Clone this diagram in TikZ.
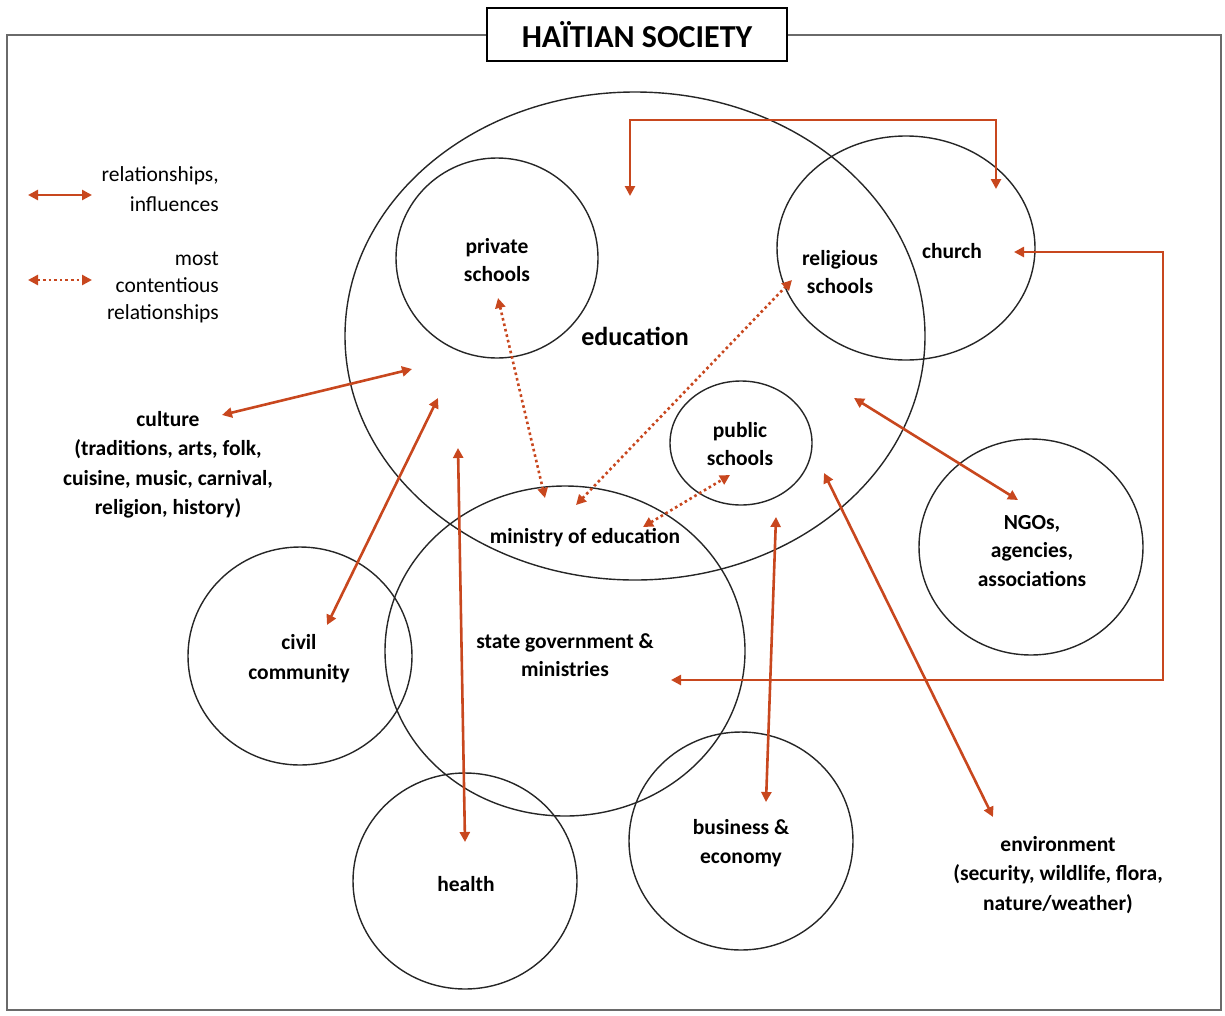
\documentclass[tikz,border=0pt]{standalone}
\usepackage{fontspec}
\setmainfont{Carlito}
\usetikzlibrary{arrows.meta}
\definecolor{rel}{HTML}{C8471E}
\definecolor{frame}{HTML}{6A6A6A}
\begin{document}
\begin{tikzpicture}[x=1pt,y=-1pt,
  area/.style={draw=black!85,line width=1.4pt},
  lbl/.style={font=\fontsize{21.5}{28}\selectfont\bfseries,align=center,inner sep=0pt},
  legtxt/.style={font=\fontsize{21.5}{29}\selectfont,align=right,inner sep=0pt,anchor=east},
  link/.style={draw=rel,line width=2.6pt,{Triangle[length=10pt,width=10pt]}-{Triangle[length=10pt,width=10pt]}},
  tense/.style={draw=rel,line width=2.6pt,dash pattern=on 2.6pt off 3pt,{Triangle[length=10pt,width=10pt]}-{Triangle[length=10pt,width=10pt]}}]
\useasboundingbox (0,0) rectangle (1225,1015);
% outer frame and title
\draw[frame,line width=2.2pt] (7,35) rectangle (1221,1010);
\node[draw=black,line width=1.6pt,fill=white,minimum width=300pt,minimum height=53pt,
      font=\fontsize{32}{34}\selectfont\bfseries] (title) at (637,34.5) {HAÏTIAN SOCIETY};

% areas of society
\draw[area] (635,336) ellipse [x radius=290, y radius=244];
\draw[area] (497,258) ellipse [x radius=101, y radius=100];
\draw[area] (906,248) ellipse [x radius=129, y radius=112];
\draw[area] (741,443) ellipse [x radius=71, y radius=62];
\draw[area] (1031,547) ellipse [x radius=112, y radius=108];
\draw[area] (565,651) ellipse [x radius=180, y radius=165];
\draw[area] (300,656) ellipse [x radius=112, y radius=109];
\draw[area] (465,881) ellipse [x radius=112, y radius=108];
\draw[area] (741,841) ellipse [x radius=112, y radius=109];

% labels
\node[lbl] (private) at (497,260) {private\\schools};
\node[lbl,font=\fontsize{26}{28}\selectfont\bfseries] (educ) at (635,336) {education};
\node[lbl] (relig) at (840,272) {religious\\schools};
\node[lbl] (church) at (952,251) {church};
\node[lbl] (public) at (740,444) {public\\schools};
\node[lbl] (ministry) at (585,538) {ministry of education};
\node[lbl,font=\fontsize{21.5}{28.5}\selectfont\bfseries] (ngo) at (1032,551) {NGOs,\\agencies,\\associations};
\node[lbl] (state) at (565,655) {state government \&\\ministries};
\node[lbl,font=\fontsize{21.5}{30}\selectfont\bfseries] (civil) at (299,659) {civil\\community};
\node[lbl] (health) at (466,884) {health};
\node[lbl,font=\fontsize{21.5}{29}\selectfont\bfseries] (business) at (741,843) {business \&\\economy};
\node[lbl,font=\fontsize{21.5}{29.5}\selectfont\bfseries] (culture) at (168,465) {culture\\(traditions, arts, folk,\\cuisine, music, carnival,\\religion, history)};
\node[lbl,font=\fontsize{21.5}{29.5}\selectfont\bfseries] (env) at (1058,875) {environment\\(security, wildlife, flora,\\nature/weather)};

% legend
\coordinate (la) at (28,195); \coordinate (lb) at (92,195);
\coordinate (lc) at (28,280); \coordinate (ld) at (92,280);
\draw[link] (la) -- (lb);
\draw[tense] (lc) -- (ld);
\node[legtxt,font=\fontsize{21.5}{30}\selectfont] (leg1) at (219,189) {relationships,\\influences};
\node[legtxt,font=\fontsize{21.5}{27}\selectfont] (leg2) at (219,287) {most\\contentious\\relationships};

% end points of the connectors
\coordinate (cuA) at (222,415); \coordinate (cuB) at (412,369);
\coordinate (ciA) at (327,625); \coordinate (ciB) at (438,398);
\coordinate (heA) at (458,448); \coordinate (heB) at (465,842);
\coordinate (prA) at (498,298); \coordinate (prB) at (545,498);
\coordinate (reA) at (576,505); \coordinate (reB) at (792,280);
\coordinate (puA) at (643,527); \coordinate (puB) at (730,475);
\coordinate (buA) at (776,517); \coordinate (buB) at (766,802);
\coordinate (enA) at (824,473); \coordinate (enB) at (993,817);
\coordinate (ngA) at (854,398); \coordinate (ngB) at (1018,500);
\coordinate (chA) at (630,196); \coordinate (chB) at (996,189);
\coordinate (stA) at (1014,252); \coordinate (stB) at (671,680);

% influences
\draw[link] (cuA) -- (cuB);
\draw[link] (ciA) -- (ciB);
\draw[link] (heA) -- (heB);
\draw[link] (buA) -- (buB);
\draw[link] (enA) -- (enB);
\draw[link] (ngA) -- (ngB);
\draw[link] (chA) |- (813,120) -| (chB);
\draw[link] (stA) -| (1163,466) |- (stB);

% most contentious relationships
\draw[tense] (prA) -- (prB);
\draw[tense] (reA) -- (reB);
\draw[tense] (puA) -- (puB);
\end{tikzpicture}
\end{document}
